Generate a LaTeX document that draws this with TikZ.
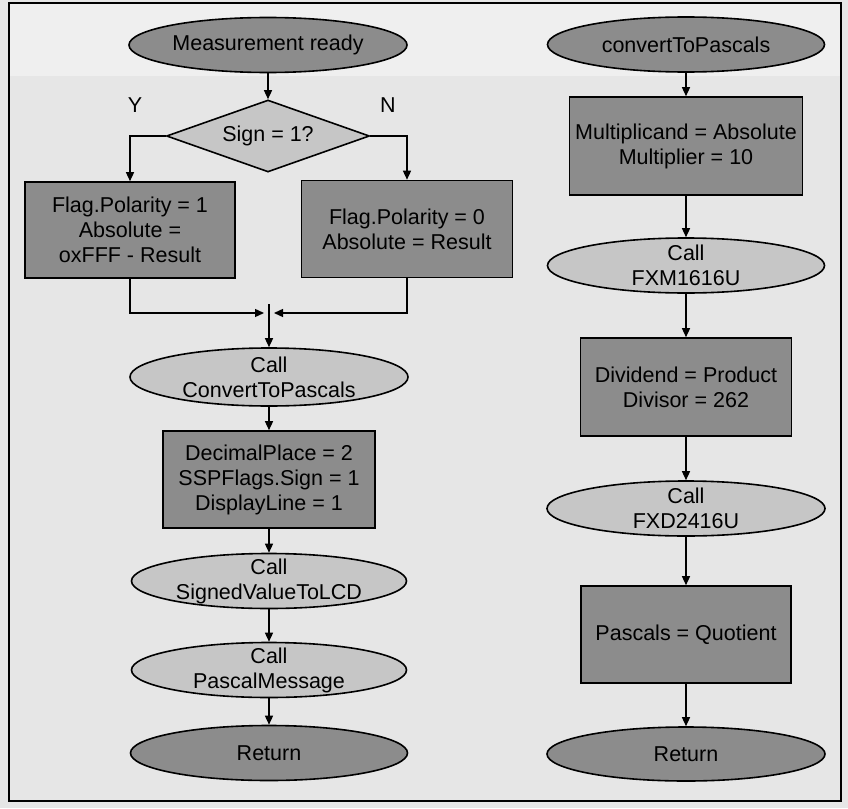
\documentclass[tikz,border=0pt]{standalone}
\usepackage{fontspec}
\setmainfont{Liberation Sans}
\usetikzlibrary{shapes.geometric,arrows.meta}
\definecolor{pagebg}{HTML}{E6E6E6}
\definecolor{topband}{HTML}{EFEFEF}
\definecolor{darkfill}{HTML}{8C8C8C}
\definecolor{lightfill}{HTML}{C6C6C6}
\begin{document}
\begin{tikzpicture}[x=1pt,y=-1pt,
  font=\fontsize{21.5}{25}\selectfont,
  term/.style={ellipse, draw=black, line width=1.6pt, inner sep=0pt,
               minimum width=278pt, minimum height=55pt},
  procbox/.style={rectangle, draw=black, line width=1.6pt, fill=darkfill, inner sep=0pt},
  decide/.style={diamond, draw=black, line width=1.6pt, fill=lightfill, inner sep=0pt,
                 aspect=2.8, minimum width=203pt, minimum height=72pt},
  txt/.style={align=center, inner sep=0pt},
  arr/.style={-{Triangle[length=9pt,width=8pt]}, line width=1.4pt},
  plain/.style={line width=1.4pt}]

% page and frame
\fill[pagebg] (0,0) rectangle (848,808);
\fill[topband] (9,3) rectangle (841,76);
\draw[line width=2pt] (9,3) rectangle (841,801);
\useasboundingbox (0,0) rectangle (848,808);

% ---------------- left column ----------------
\node[term, fill=darkfill] (mr) at (268,45) {};
\node[txt] (mrt) at (mr) {Measurement ready};

\node[decide] (dia) at (268,136) {};
\node[txt] (diat) at (268,136) {Sign = 1?};

\node[txt] (ylab) at (135,105) {Y};
\node[txt] (nlab) at (388,105) {N};

\node[procbox, minimum width=210pt, minimum height=96pt] (lbox) at (130,230) {};
\node[txt] (lboxt) at (lbox) {Flag.Polarity = 1\\Absolute =\\oxFFF - Result};

\node[procbox, minimum width=211pt, minimum height=97pt] (rbox) at (407,229) {};
\node[txt] (rboxt) at (rbox) {Flag.Polarity = 0\\Absolute = Result};

\coordinate (m) at (269,313);
\coordinate (mtop) at (269,304);

\node[term, fill=lightfill, minimum height=58pt] (cp) at (269,377) {};
\node[txt] (cpt) at (cp) {Call\\ConvertToPascals};

\node[procbox, minimum width=212pt, minimum height=97pt] (dp) at (269,479.5) {};
\node[txt] (dpt) at (dp) {DecimalPlace = 2\\SSPFlags.Sign = 1\\DisplayLine = 1};

\node[term, fill=lightfill, minimum width=275pt] (sv) at (269,581) {};
\node[txt] (svt) at (sv) {Call\\SignedValueToLCD};

\node[term, fill=lightfill, minimum width=275pt] (pm) at (269,670) {};
\node[txt] (pmt) at (pm) {Call\\PascalMessage};

\node[term, fill=darkfill, minimum width=277pt] (ret1) at (269,753) {};
\node[txt] (ret1t) at (ret1) {Return};

% left connectors
\draw[arr] (mr.south) -- (dia.north);
\draw[arr] (dia.west) -| (lbox.north);
\draw[arr] (dia.east) -| (rbox.north);
\draw[arr] (lbox.south) |- ([xshift=-5pt]m);
\draw[arr] (rbox.south) |- ([xshift=5pt]m);
\draw[arr] (mtop) -- (cp.north);
\draw[arr] (cp.south) -- (dp.north);
\draw[arr] (dp.south) -- (sv.north);
\draw[arr] (sv.south) -- (pm.north);
\draw[arr] (pm.south) -- (ret1.north);

% ---------------- right column ----------------
\node[term, fill=darkfill, minimum width=277pt] (ctp) at (686,44.5) {};
\node[txt] (ctpt) at (ctp) {convertToPascals};

\node[procbox, minimum width=233pt, minimum height=98pt] (mb) at (686,146) {};
\node[txt] (mbt) at (mb) {Multiplicand = Absolute\\Multiplier = 10};

\node[term, fill=lightfill, minimum width=277pt] (fxm) at (686,265.5) {};
\node[txt] (fxmt) at (fxm) {Call\\FXM1616U};

\node[procbox, minimum width=211pt, minimum height=98pt] (db) at (686,387) {};
\node[txt] (dbt) at (db) {Dividend = Product\\Divisor = 262};

\node[term, fill=lightfill] (fxd) at (686,508.5) {};
\node[txt] (fxdt) at (fxd) {Call\\FXD2416U};

\node[procbox, minimum width=210pt, minimum height=97pt] (pb) at (686,634.5) {};
\node[txt] (pbt) at (pb) {Pascals = Quotient};

\node[term, fill=darkfill, minimum height=54pt] (ret2) at (686,754) {};
\node[txt] (ret2t) at (ret2) {Return};

% right connectors
\draw[arr] (ctp.south) -- (mb.north);
\draw[arr] (mb.south) -- (fxm.north);
\draw[arr] (fxm.south) -- (db.north);
\draw[arr] (db.south) -- (fxd.north);
\draw[arr] (fxd.south) -- (pb.north);
\draw[arr] (pb.south) -- (ret2.north);
\end{tikzpicture}
\end{document}
